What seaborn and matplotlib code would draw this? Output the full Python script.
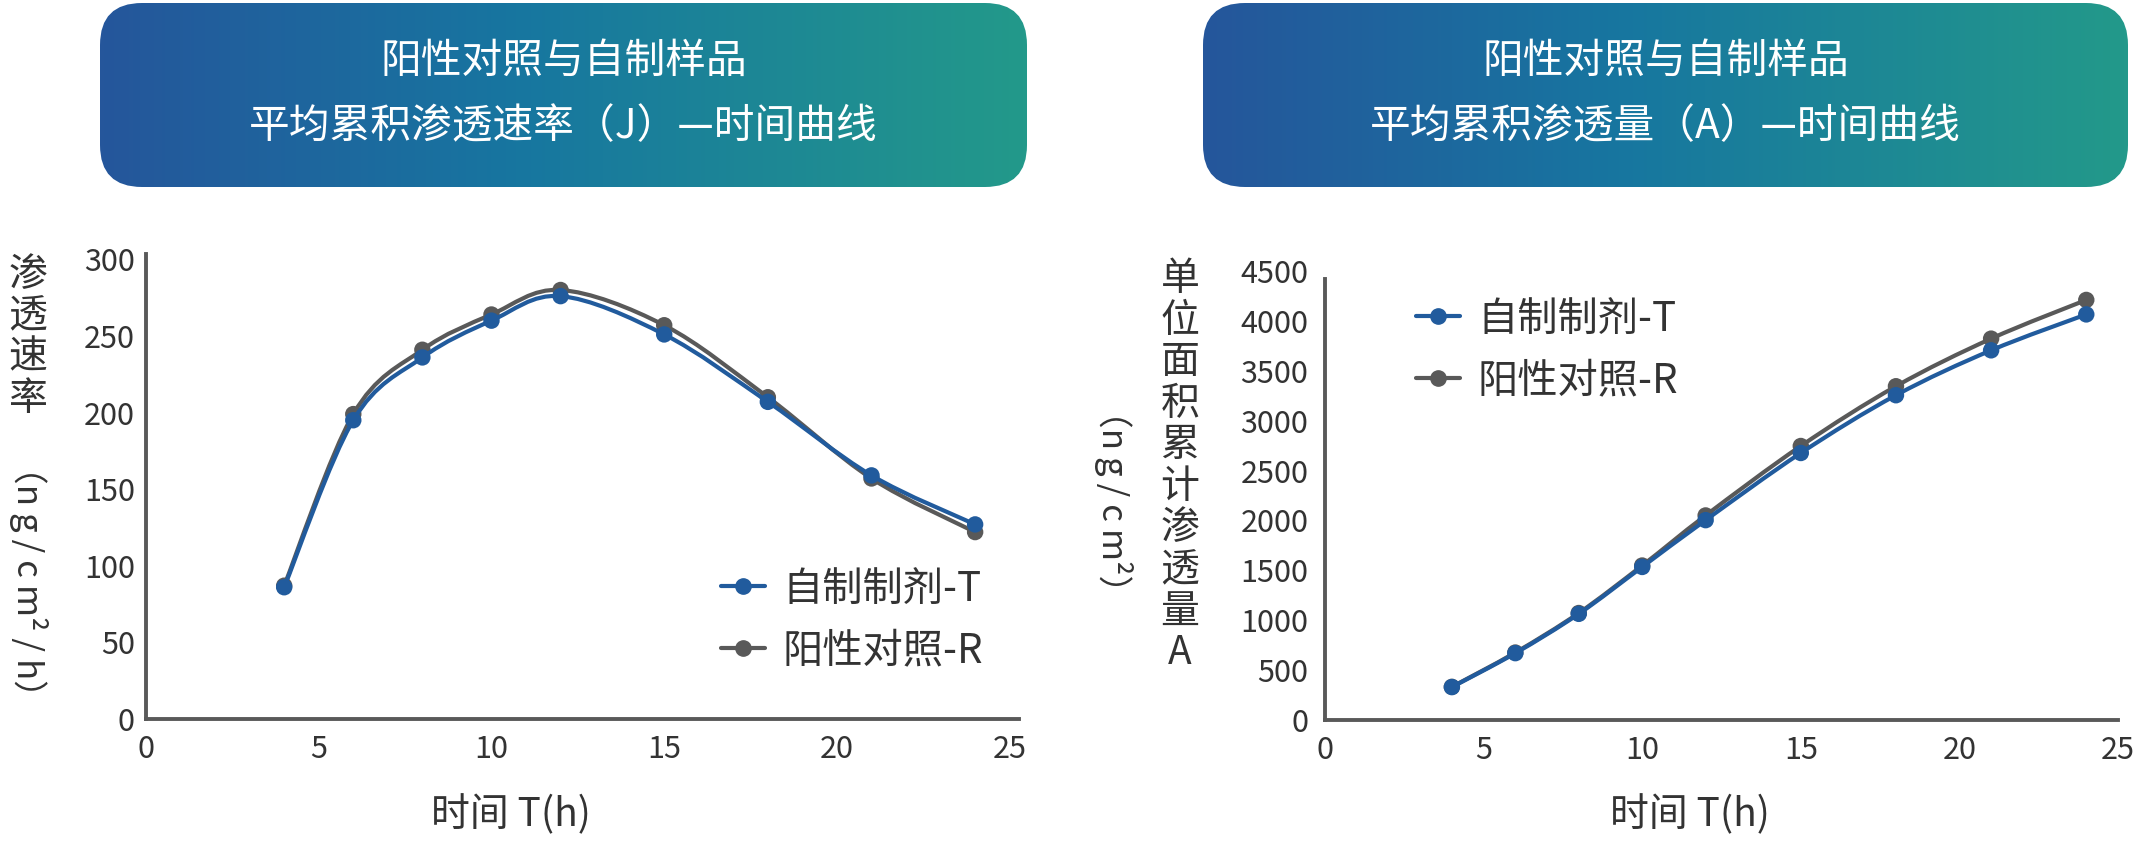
import numpy as np
import matplotlib
matplotlib.use("Agg")
import matplotlib.pyplot as plt
from matplotlib.path import Path
from matplotlib.patches import PathPatch, FancyBboxPatch
from matplotlib.lines import Line2D
from matplotlib.colors import LinearSegmentedColormap
import seaborn as sns

# ------------------------------------------------------------------
# Data
# ------------------------------------------------------------------
time_h = [4, 6, 8, 10, 12, 15, 18, 21, 24]

flux_T = [86, 195, 236, 260, 276, 251, 207, 159, 127]
flux_R = [87, 199, 241, 264, 280, 257, 210, 157, 122]

amount_T = [330, 670, 1064, 1534, 2003, 2676, 3255, 3705, 4065]
amount_R = [332, 676, 1072, 1548, 2050, 2746, 3345, 3822, 4210]

series_labels = ["自制制剂-T", "阳性对照-R"]
x_ticks = [0, 5, 10, 15, 20, 25]
flux_ticks = [0, 50, 100, 150, 200, 250, 300]
amount_ticks = [0, 500, 1000, 1500, 2000, 2500, 3000, 3500, 4000, 4500]

titles = [("阳性对照与自制样品", "平均累积渗透速率（J）—时间曲线"),
          ("阳性对照与自制样品", "平均累积渗透量（A）—时间曲线")]

BLUE = "#215b9d"
GRAY = "#595959"
TEXT = "#333333"
THIN = "\u2009"

W, H = 2136, 841

sns.set_style("white")
plt.rcParams["font.family"] = ["Noto Sans CJK SC", "DejaVu Sans"]


def smooth_path(x, y):
    # Catmull-Rom style Bezier through the data points (like Excel smoothed lines)
    pts = np.column_stack([x, y]).astype(float)
    n = len(pts)
    verts = [pts[0]]
    codes = [Path.MOVETO]
    for i in range(n - 1):
        p0 = pts[i - 1] if i > 0 else pts[i]
        p1, p2 = pts[i], pts[i + 1]
        p3 = pts[i + 2] if i + 2 < n else pts[i + 1]
        verts += [p1 + (p2 - p0) / 6, p2 - (p3 - p1) / 6, p2]
        codes += [Path.CURVE4] * 3
    return Path(verts, codes)


def draw_series(ax, y, color, z):
    ax.add_patch(PathPatch(smooth_path(time_h, y), facecolor="none",
                           edgecolor=color, lw=3.0, zorder=z, capstyle="round"))
    sns.scatterplot(x=time_h, y=y, ax=ax, color=color, s=140,
                    edgecolor="none", zorder=z + 1, legend=False)


def style_axes(ax, yticks, ypad):
    for side in ["top", "right"]:
        ax.spines[side].set_visible(False)
    for side in ["left", "bottom"]:
        ax.spines[side].set_color(GRAY)
        ax.spines[side].set_linewidth(2.8)
    ax.set_xticks(x_ticks)
    ax.set_yticks(yticks)
    ax.tick_params(length=0, labelsize=22, labelcolor=TEXT)
    ax.tick_params(axis="y", pad=ypad)
    ax.tick_params(axis="x", pad=11)
    ax.set_xlabel("")
    ax.set_ylabel("")
    ax.grid(False)


def add_legend(ax, fx, fy):
    handles = [Line2D([], [], color=BLUE, lw=3.0, marker="o", markersize=11),
               Line2D([], [], color=GRAY, lw=3.0, marker="o", markersize=11)]
    ax.legend(handles, series_labels, loc="center left",
              bbox_to_anchor=(fx, fy), bbox_transform=ax.figure.transFigure,
              frameon=False, fontsize=29, handlelength=1.1, handletextpad=0.43,
              labelspacing=0.52, borderpad=0, borderaxespad=0,
              labelcolor=TEXT)


fig = plt.figure(figsize=(W / 100, H / 100), dpi=100)

# background layer in pixel units for the title boxes and free text
bg = fig.add_axes([0, 0, 1, 1])
bg.set_xlim(0, W)
bg.set_ylim(H, 0)
bg.axis("off")

cmap = LinearSegmentedColormap.from_list(
    "hdr", [(0, "#25569b"), (0.45, "#1776a0"), (1, "#23998a")])
grad = np.linspace(0, 1, 256).reshape(1, -1)
for (x0, x1), (line1, line2) in zip([(100, 1027), (1203, 2128)], titles):
    box = FancyBboxPatch((x0, 3), x1 - x0, 184,
                         boxstyle="round,pad=0,rounding_size=42",
                         facecolor="none", edgecolor="none")
    bg.add_patch(box)
    im = bg.imshow(grad, cmap=cmap, aspect="auto",
                   extent=(x0, x1, 187, 3), zorder=1)
    im.set_clip_path(box)
    cx = (x0 + x1) / 2
    bg.text(cx, 61, line1, color="white", fontsize=29.3, ha="center", va="center", zorder=2)
    bg.text(cx, 127, line2, color="white", fontsize=29.3, ha="center", va="center", zorder=2)

# ---------------- left chart: flux ----------------
ax1 = fig.add_axes([146 / W, 1 - 719 / H, (1019 - 146) / W, (719 - 254) / H])
draw_series(ax1, flux_R, GRAY, 2)
draw_series(ax1, flux_T, BLUE, 4)
ax1.set_xlim(0, 25.27)
ax1.set_ylim(0, 303.5)
style_axes(ax1, flux_ticks, 8)
add_legend(ax1, 721 / W, 1 - 620 / H)

# ---------------- right chart: cumulative amount ----------------
ax2 = fig.add_axes([1325 / W, 1 - 720 / H, (2118 - 1325) / W, (720 - 271) / H])
draw_series(ax2, amount_R, GRAY, 2)
draw_series(ax2, amount_T, BLUE, 4)
ax2.set_xlim(0, 25.0)
ax2.set_ylim(0, 4500)
style_axes(ax2, amount_ticks, 12)
ax2.spines["left"].set_bounds(0, 4420)
add_legend(ax2, 1416 / W, 1 - 350 / H)

# axis titles
bg.text(511, 815, "时间 T(h)", fontsize=28, color=TEXT, ha="center", va="center")
bg.text(1690, 815, "时间 T(h)", fontsize=28, color=TEXT, ha="center", va="center")

bg.text(28, 337, "\n".join("渗透速率"), fontsize=28, color=TEXT,
        ha="center", va="center", linespacing=1.05)
bg.text(28, 581, "（" + THIN.join(["n", "g", "/", "c", "m²", "/", "h"]) + "）",
        fontsize=25, color=TEXT, ha="center", va="center", rotation=270)

bg.text(1180, 466, "\n".join("单位面积累计渗透量A"), fontsize=28, color=TEXT,
        ha="center", va="center", linespacing=1.05)
bg.text(1114, 501, "（" + THIN.join(["n", "g", "/", "c", "m²"]) + "）",
        fontsize=25, color=TEXT, ha="center", va="center", rotation=270)

fig.savefig("out.png", dpi=100)
